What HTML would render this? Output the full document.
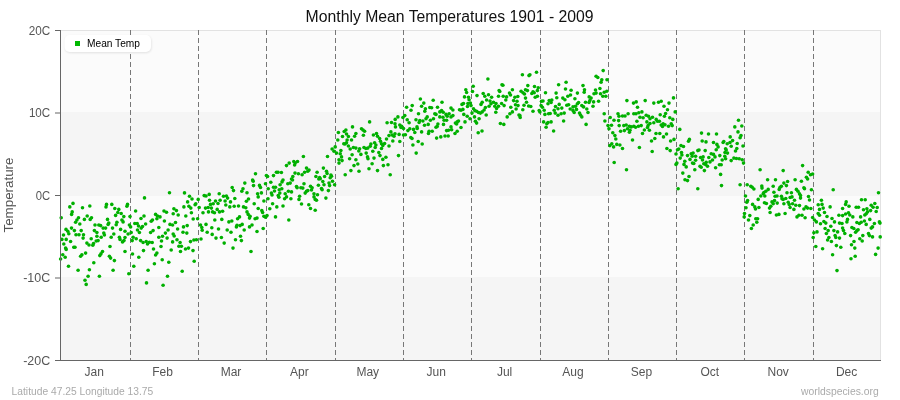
<!DOCTYPE html><html><head><meta charset="utf-8"><style>html,body{margin:0;padding:0;background:#fff;width:900px;height:400px;overflow:hidden}svg{display:block}text{will-change:transform}text{font-family:"Liberation Sans",sans-serif}</style></head><body><svg width="900" height="400" viewBox="0 0 900 400"><rect x="60" y="30" width="821" height="330" fill="#fbfbfb"/><rect x="60" y="112" width="821" height="84" fill="#f5f5f5"/><rect x="60" y="277" width="821" height="83" fill="#f5f5f5"/><rect x="60" y="30" width="821" height="1" fill="#e2e2e2"/><rect x="880" y="30" width="1" height="330" fill="#e2e2e2"/><line x1="130.5" y1="30" x2="130.5" y2="360" stroke="#777" stroke-width="1" stroke-dasharray="5,3" stroke-dashoffset="0"/><line x1="198.5" y1="30" x2="198.5" y2="360" stroke="#777" stroke-width="1" stroke-dasharray="5,3" stroke-dashoffset="0"/><line x1="266.5" y1="30" x2="266.5" y2="360" stroke="#777" stroke-width="1" stroke-dasharray="5,3" stroke-dashoffset="0"/><line x1="335.5" y1="30" x2="335.5" y2="360" stroke="#777" stroke-width="1" stroke-dasharray="5,3" stroke-dashoffset="0"/><line x1="403.5" y1="30" x2="403.5" y2="360" stroke="#777" stroke-width="1" stroke-dasharray="5,3" stroke-dashoffset="0"/><line x1="471.5" y1="30" x2="471.5" y2="360" stroke="#777" stroke-width="1" stroke-dasharray="5,3" stroke-dashoffset="0"/><line x1="540.5" y1="30" x2="540.5" y2="360" stroke="#777" stroke-width="1" stroke-dasharray="5,3" stroke-dashoffset="0"/><line x1="608.5" y1="30" x2="608.5" y2="360" stroke="#777" stroke-width="1" stroke-dasharray="5,3" stroke-dashoffset="0"/><line x1="676.5" y1="30" x2="676.5" y2="360" stroke="#777" stroke-width="1" stroke-dasharray="5,3" stroke-dashoffset="0"/><line x1="744.5" y1="30" x2="744.5" y2="360" stroke="#777" stroke-width="1" stroke-dasharray="5,3" stroke-dashoffset="0"/><line x1="813.5" y1="30" x2="813.5" y2="360" stroke="#777" stroke-width="1" stroke-dasharray="5,3" stroke-dashoffset="0"/><g fill="#00b000"><circle cx="169.5" cy="192.8" r="1.8"/><circle cx="144.5" cy="197.9" r="1.8"/><circle cx="73.0" cy="203.4" r="1.8"/><circle cx="69.8" cy="206.9" r="1.8"/><circle cx="82.5" cy="207.8" r="1.8"/><circle cx="89.8" cy="206.0" r="1.8"/><circle cx="106.5" cy="204.4" r="1.8"/><circle cx="106.0" cy="206.9" r="1.8"/><circle cx="111.8" cy="204.4" r="1.8"/><circle cx="127.5" cy="204.4" r="1.8"/><circle cx="126.9" cy="206.2" r="1.8"/><circle cx="114.8" cy="208.5" r="1.8"/><circle cx="118.8" cy="209.4" r="1.8"/><circle cx="72.2" cy="211.9" r="1.8"/><circle cx="71.6" cy="214.4" r="1.8"/><circle cx="135.6" cy="211.0" r="1.8"/><circle cx="164.0" cy="211.0" r="1.8"/><circle cx="166.5" cy="212.2" r="1.8"/><circle cx="117.8" cy="212.5" r="1.8"/><circle cx="121.2" cy="213.5" r="1.8"/><circle cx="61.2" cy="217.8" r="1.8"/><circle cx="87.2" cy="216.0" r="1.8"/><circle cx="78.5" cy="217.8" r="1.8"/><circle cx="76.9" cy="220.0" r="1.8"/><circle cx="91.5" cy="217.8" r="1.8"/><circle cx="90.2" cy="219.4" r="1.8"/><circle cx="84.4" cy="219.4" r="1.8"/><circle cx="115.6" cy="215.4" r="1.8"/><circle cx="123.8" cy="216.6" r="1.8"/><circle cx="130.0" cy="216.6" r="1.8"/><circle cx="144.0" cy="216.0" r="1.8"/><circle cx="141.0" cy="218.5" r="1.8"/><circle cx="155.6" cy="214.4" r="1.8"/><circle cx="157.5" cy="216.0" r="1.8"/><circle cx="160.0" cy="216.9" r="1.8"/><circle cx="156.9" cy="218.8" r="1.8"/><circle cx="107.5" cy="219.4" r="1.8"/><circle cx="121.9" cy="220.0" r="1.8"/><circle cx="123.1" cy="221.9" r="1.8"/><circle cx="152.5" cy="220.0" r="1.8"/><circle cx="151.2" cy="221.2" r="1.8"/><circle cx="164.4" cy="221.0" r="1.8"/><circle cx="75.6" cy="222.2" r="1.8"/><circle cx="79.8" cy="224.0" r="1.8"/><circle cx="95.0" cy="225.0" r="1.8"/><circle cx="98.8" cy="225.0" r="1.8"/><circle cx="100.6" cy="225.6" r="1.8"/><circle cx="108.8" cy="223.1" r="1.8"/><circle cx="108.1" cy="224.4" r="1.8"/><circle cx="116.9" cy="222.2" r="1.8"/><circle cx="116.2" cy="224.8" r="1.8"/><circle cx="129.4" cy="225.0" r="1.8"/><circle cx="130.6" cy="226.9" r="1.8"/><circle cx="134.8" cy="223.5" r="1.8"/><circle cx="137.2" cy="223.5" r="1.8"/><circle cx="138.5" cy="226.0" r="1.8"/><circle cx="142.5" cy="226.5" r="1.8"/><circle cx="141.2" cy="228.1" r="1.8"/><circle cx="145.6" cy="224.0" r="1.8"/><circle cx="170.0" cy="224.4" r="1.8"/><circle cx="66.0" cy="229.4" r="1.8"/><circle cx="67.8" cy="231.2" r="1.8"/><circle cx="71.5" cy="228.1" r="1.8"/><circle cx="74.4" cy="230.6" r="1.8"/><circle cx="81.2" cy="230.6" r="1.8"/><circle cx="94.4" cy="230.6" r="1.8"/><circle cx="96.9" cy="232.5" r="1.8"/><circle cx="103.1" cy="228.1" r="1.8"/><circle cx="105.6" cy="228.1" r="1.8"/><circle cx="112.5" cy="228.1" r="1.8"/><circle cx="120.6" cy="229.4" r="1.8"/><circle cx="125.0" cy="231.2" r="1.8"/><circle cx="137.5" cy="230.0" r="1.8"/><circle cx="139.4" cy="232.5" r="1.8"/><circle cx="158.8" cy="227.5" r="1.8"/><circle cx="153.1" cy="230.6" r="1.8"/><circle cx="150.6" cy="232.5" r="1.8"/><circle cx="168.1" cy="230.0" r="1.8"/><circle cx="63.5" cy="235.0" r="1.8"/><circle cx="68.8" cy="233.8" r="1.8"/><circle cx="76.0" cy="234.8" r="1.8"/><circle cx="79.0" cy="234.8" r="1.8"/><circle cx="83.5" cy="234.8" r="1.8"/><circle cx="103.8" cy="233.1" r="1.8"/><circle cx="104.4" cy="235.0" r="1.8"/><circle cx="101.2" cy="237.2" r="1.8"/><circle cx="96.9" cy="236.2" r="1.8"/><circle cx="113.8" cy="234.0" r="1.8"/><circle cx="128.1" cy="234.0" r="1.8"/><circle cx="131.2" cy="232.5" r="1.8"/><circle cx="111.2" cy="237.2" r="1.8"/><circle cx="119.4" cy="237.2" r="1.8"/><circle cx="120.0" cy="239.4" r="1.8"/><circle cx="125.0" cy="237.5" r="1.8"/><circle cx="133.1" cy="237.2" r="1.8"/><circle cx="136.2" cy="238.8" r="1.8"/><circle cx="158.8" cy="237.2" r="1.8"/><circle cx="162.5" cy="236.2" r="1.8"/><circle cx="165.4" cy="233.1" r="1.8"/><circle cx="167.1" cy="238.1" r="1.8"/><circle cx="83.1" cy="238.1" r="1.8"/><circle cx="91.2" cy="238.8" r="1.8"/><circle cx="61.9" cy="239.4" r="1.8"/><circle cx="66.2" cy="239.4" r="1.8"/><circle cx="70.6" cy="241.5" r="1.8"/><circle cx="63.8" cy="244.0" r="1.8"/><circle cx="65.6" cy="248.1" r="1.8"/><circle cx="66.2" cy="249.4" r="1.8"/><circle cx="73.8" cy="247.2" r="1.8"/><circle cx="75.0" cy="247.2" r="1.8"/><circle cx="86.9" cy="243.1" r="1.8"/><circle cx="89.0" cy="245.0" r="1.8"/><circle cx="92.8" cy="245.2" r="1.8"/><circle cx="93.5" cy="243.5" r="1.8"/><circle cx="96.2" cy="241.0" r="1.8"/><circle cx="98.1" cy="240.6" r="1.8"/><circle cx="110.0" cy="246.5" r="1.8"/><circle cx="122.5" cy="241.9" r="1.8"/><circle cx="124.0" cy="240.6" r="1.8"/><circle cx="132.2" cy="240.6" r="1.8"/><circle cx="140.6" cy="240.6" r="1.8"/><circle cx="143.1" cy="242.5" r="1.8"/><circle cx="146.2" cy="241.5" r="1.8"/><circle cx="147.5" cy="244.0" r="1.8"/><circle cx="149.4" cy="242.2" r="1.8"/><circle cx="152.2" cy="242.5" r="1.8"/><circle cx="161.5" cy="241.0" r="1.8"/><circle cx="161.0" cy="246.5" r="1.8"/><circle cx="171.2" cy="250.0" r="1.8"/><circle cx="153.5" cy="249.0" r="1.8"/><circle cx="143.5" cy="250.6" r="1.8"/><circle cx="125.0" cy="251.5" r="1.8"/><circle cx="102.5" cy="251.5" r="1.8"/><circle cx="101.0" cy="253.8" r="1.8"/><circle cx="99.8" cy="255.6" r="1.8"/><circle cx="85.6" cy="253.1" r="1.8"/><circle cx="81.9" cy="254.8" r="1.8"/><circle cx="80.6" cy="256.2" r="1.8"/><circle cx="62.8" cy="254.8" r="1.8"/><circle cx="65.2" cy="257.2" r="1.8"/><circle cx="60.6" cy="259.0" r="1.8"/><circle cx="109.4" cy="256.2" r="1.8"/><circle cx="110.6" cy="258.1" r="1.8"/><circle cx="114.4" cy="260.6" r="1.8"/><circle cx="132.5" cy="254.0" r="1.8"/><circle cx="138.8" cy="257.2" r="1.8"/><circle cx="156.9" cy="253.1" r="1.8"/><circle cx="155.6" cy="255.0" r="1.8"/><circle cx="162.2" cy="259.8" r="1.8"/><circle cx="168.8" cy="262.2" r="1.8"/><circle cx="93.8" cy="262.8" r="1.8"/><circle cx="68.5" cy="266.2" r="1.8"/><circle cx="78.1" cy="270.2" r="1.8"/><circle cx="89.4" cy="269.8" r="1.8"/><circle cx="113.1" cy="270.2" r="1.8"/><circle cx="133.8" cy="266.2" r="1.8"/><circle cx="154.4" cy="263.8" r="1.8"/><circle cx="148.1" cy="270.2" r="1.8"/><circle cx="128.8" cy="273.8" r="1.8"/><circle cx="88.1" cy="276.2" r="1.8"/><circle cx="99.4" cy="276.2" r="1.8"/><circle cx="85.0" cy="280.2" r="1.8"/><circle cx="86.2" cy="284.4" r="1.8"/><circle cx="146.5" cy="282.9" r="1.8"/><circle cx="163.1" cy="285.2" r="1.8"/><circle cx="167.5" cy="276.2" r="1.8"/><circle cx="255.5" cy="173.8" r="1.8"/><circle cx="266.4" cy="175.6" r="1.8"/><circle cx="267.6" cy="176.5" r="1.8"/><circle cx="273.5" cy="175.6" r="1.8"/><circle cx="276.4" cy="172.2" r="1.8"/><circle cx="278.0" cy="172.2" r="1.8"/><circle cx="281.4" cy="172.5" r="1.8"/><circle cx="252.6" cy="180.0" r="1.8"/><circle cx="253.2" cy="181.2" r="1.8"/><circle cx="244.8" cy="183.1" r="1.8"/><circle cx="253.5" cy="185.6" r="1.8"/><circle cx="265.5" cy="183.8" r="1.8"/><circle cx="270.8" cy="182.2" r="1.8"/><circle cx="283.0" cy="180.0" r="1.8"/><circle cx="282.0" cy="181.9" r="1.8"/><circle cx="280.1" cy="184.8" r="1.8"/><circle cx="259.5" cy="185.4" r="1.8"/><circle cx="260.5" cy="187.5" r="1.8"/><circle cx="268.2" cy="188.8" r="1.8"/><circle cx="273.5" cy="187.2" r="1.8"/><circle cx="275.5" cy="187.2" r="1.8"/><circle cx="274.5" cy="191.0" r="1.8"/><circle cx="279.2" cy="189.8" r="1.8"/><circle cx="281.8" cy="188.8" r="1.8"/><circle cx="232.2" cy="187.5" r="1.8"/><circle cx="233.5" cy="190.6" r="1.8"/><circle cx="243.0" cy="188.8" r="1.8"/><circle cx="241.8" cy="191.2" r="1.8"/><circle cx="247.0" cy="192.8" r="1.8"/><circle cx="184.5" cy="192.9" r="1.8"/><circle cx="189.5" cy="196.2" r="1.8"/><circle cx="192.0" cy="199.0" r="1.8"/><circle cx="198.2" cy="199.4" r="1.8"/><circle cx="204.2" cy="195.6" r="1.8"/><circle cx="206.0" cy="196.0" r="1.8"/><circle cx="209.2" cy="194.4" r="1.8"/><circle cx="219.2" cy="193.8" r="1.8"/><circle cx="223.5" cy="196.2" r="1.8"/><circle cx="226.4" cy="196.0" r="1.8"/><circle cx="227.6" cy="198.1" r="1.8"/><circle cx="234.8" cy="198.5" r="1.8"/><circle cx="257.6" cy="193.8" r="1.8"/><circle cx="258.2" cy="196.9" r="1.8"/><circle cx="261.4" cy="192.9" r="1.8"/><circle cx="271.4" cy="193.1" r="1.8"/><circle cx="272.0" cy="195.0" r="1.8"/><circle cx="279.8" cy="193.1" r="1.8"/><circle cx="278.2" cy="195.6" r="1.8"/><circle cx="278.9" cy="197.2" r="1.8"/><circle cx="268.0" cy="198.8" r="1.8"/><circle cx="248.5" cy="199.0" r="1.8"/><circle cx="187.6" cy="201.9" r="1.8"/><circle cx="188.9" cy="206.2" r="1.8"/><circle cx="190.8" cy="208.1" r="1.8"/><circle cx="195.8" cy="203.8" r="1.8"/><circle cx="195.1" cy="204.8" r="1.8"/><circle cx="209.5" cy="200.2" r="1.8"/><circle cx="215.5" cy="201.0" r="1.8"/><circle cx="220.1" cy="200.2" r="1.8"/><circle cx="225.1" cy="201.0" r="1.8"/><circle cx="225.8" cy="205.0" r="1.8"/><circle cx="230.5" cy="201.9" r="1.8"/><circle cx="210.5" cy="204.4" r="1.8"/><circle cx="213.2" cy="203.8" r="1.8"/><circle cx="218.0" cy="203.5" r="1.8"/><circle cx="246.4" cy="201.2" r="1.8"/><circle cx="254.2" cy="203.8" r="1.8"/><circle cx="263.9" cy="201.0" r="1.8"/><circle cx="272.6" cy="203.8" r="1.8"/><circle cx="183.9" cy="206.9" r="1.8"/><circle cx="173.9" cy="208.8" r="1.8"/><circle cx="176.4" cy="210.6" r="1.8"/><circle cx="173.2" cy="213.8" r="1.8"/><circle cx="178.2" cy="215.0" r="1.8"/><circle cx="185.8" cy="216.0" r="1.8"/><circle cx="191.4" cy="212.8" r="1.8"/><circle cx="199.2" cy="207.5" r="1.8"/><circle cx="205.5" cy="208.1" r="1.8"/><circle cx="208.2" cy="207.5" r="1.8"/><circle cx="208.5" cy="211.9" r="1.8"/><circle cx="211.4" cy="208.1" r="1.8"/><circle cx="203.0" cy="212.8" r="1.8"/><circle cx="212.6" cy="211.9" r="1.8"/><circle cx="214.5" cy="212.8" r="1.8"/><circle cx="217.2" cy="209.4" r="1.8"/><circle cx="219.5" cy="211.9" r="1.8"/><circle cx="222.6" cy="211.2" r="1.8"/><circle cx="229.8" cy="206.9" r="1.8"/><circle cx="234.2" cy="206.2" r="1.8"/><circle cx="238.5" cy="206.0" r="1.8"/><circle cx="243.5" cy="206.9" r="1.8"/><circle cx="245.8" cy="207.8" r="1.8"/><circle cx="247.0" cy="211.9" r="1.8"/><circle cx="248.2" cy="214.4" r="1.8"/><circle cx="250.1" cy="216.2" r="1.8"/><circle cx="249.5" cy="218.1" r="1.8"/><circle cx="258.2" cy="208.5" r="1.8"/><circle cx="261.8" cy="210.6" r="1.8"/><circle cx="262.6" cy="212.5" r="1.8"/><circle cx="269.8" cy="208.8" r="1.8"/><circle cx="276.8" cy="206.9" r="1.8"/><circle cx="283.0" cy="206.0" r="1.8"/><circle cx="263.9" cy="216.2" r="1.8"/><circle cx="265.5" cy="217.2" r="1.8"/><circle cx="267.0" cy="215.6" r="1.8"/><circle cx="275.5" cy="216.9" r="1.8"/><circle cx="255.1" cy="218.8" r="1.8"/><circle cx="257.0" cy="218.1" r="1.8"/><circle cx="193.2" cy="219.0" r="1.8"/><circle cx="197.6" cy="218.8" r="1.8"/><circle cx="214.8" cy="220.0" r="1.8"/><circle cx="221.8" cy="219.4" r="1.8"/><circle cx="228.9" cy="221.9" r="1.8"/><circle cx="231.8" cy="221.0" r="1.8"/><circle cx="237.6" cy="218.8" r="1.8"/><circle cx="239.5" cy="216.9" r="1.8"/><circle cx="175.5" cy="222.5" r="1.8"/><circle cx="183.5" cy="226.9" r="1.8"/><circle cx="187.2" cy="225.6" r="1.8"/><circle cx="200.5" cy="225.0" r="1.8"/><circle cx="201.8" cy="227.5" r="1.8"/><circle cx="202.2" cy="230.2" r="1.8"/><circle cx="206.0" cy="224.4" r="1.8"/><circle cx="211.8" cy="227.8" r="1.8"/><circle cx="218.5" cy="229.0" r="1.8"/><circle cx="227.2" cy="230.0" r="1.8"/><circle cx="231.0" cy="232.2" r="1.8"/><circle cx="236.4" cy="226.9" r="1.8"/><circle cx="237.0" cy="225.2" r="1.8"/><circle cx="240.1" cy="225.6" r="1.8"/><circle cx="242.2" cy="224.4" r="1.8"/><circle cx="244.2" cy="230.0" r="1.8"/><circle cx="249.5" cy="226.9" r="1.8"/><circle cx="252.0" cy="225.0" r="1.8"/><circle cx="263.2" cy="228.5" r="1.8"/><circle cx="257.0" cy="231.5" r="1.8"/><circle cx="172.6" cy="225.0" r="1.8"/><circle cx="177.6" cy="229.0" r="1.8"/><circle cx="183.0" cy="232.2" r="1.8"/><circle cx="186.8" cy="233.1" r="1.8"/><circle cx="173.2" cy="234.0" r="1.8"/><circle cx="174.2" cy="236.0" r="1.8"/><circle cx="207.2" cy="232.2" r="1.8"/><circle cx="212.2" cy="234.4" r="1.8"/><circle cx="216.0" cy="238.1" r="1.8"/><circle cx="221.4" cy="237.5" r="1.8"/><circle cx="240.5" cy="236.2" r="1.8"/><circle cx="241.4" cy="240.6" r="1.8"/><circle cx="235.5" cy="239.8" r="1.8"/><circle cx="201.0" cy="239.0" r="1.8"/><circle cx="193.9" cy="240.0" r="1.8"/><circle cx="196.4" cy="239.8" r="1.8"/><circle cx="190.5" cy="241.6" r="1.8"/><circle cx="177.0" cy="239.8" r="1.8"/><circle cx="180.1" cy="242.5" r="1.8"/><circle cx="224.2" cy="243.1" r="1.8"/><circle cx="172.6" cy="241.9" r="1.8"/><circle cx="178.9" cy="246.2" r="1.8"/><circle cx="181.4" cy="246.2" r="1.8"/><circle cx="180.5" cy="251.5" r="1.8"/><circle cx="185.5" cy="249.0" r="1.8"/><circle cx="188.5" cy="248.1" r="1.8"/><circle cx="193.0" cy="250.6" r="1.8"/><circle cx="233.0" cy="248.1" r="1.8"/><circle cx="251.0" cy="251.5" r="1.8"/><circle cx="194.2" cy="261.2" r="1.8"/><circle cx="182.2" cy="271.2" r="1.8"/><circle cx="369.6" cy="121.9" r="1.8"/><circle cx="387.1" cy="122.8" r="1.8"/><circle cx="391.5" cy="122.5" r="1.8"/><circle cx="395.2" cy="119.4" r="1.8"/><circle cx="395.0" cy="123.8" r="1.8"/><circle cx="395.5" cy="126.9" r="1.8"/><circle cx="352.5" cy="126.9" r="1.8"/><circle cx="361.5" cy="128.8" r="1.8"/><circle cx="363.0" cy="130.0" r="1.8"/><circle cx="364.6" cy="131.2" r="1.8"/><circle cx="338.4" cy="132.5" r="1.8"/><circle cx="344.2" cy="131.5" r="1.8"/><circle cx="345.9" cy="130.0" r="1.8"/><circle cx="346.5" cy="134.0" r="1.8"/><circle cx="348.4" cy="136.5" r="1.8"/><circle cx="342.5" cy="136.5" r="1.8"/><circle cx="355.9" cy="133.5" r="1.8"/><circle cx="354.6" cy="136.2" r="1.8"/><circle cx="363.4" cy="135.2" r="1.8"/><circle cx="373.4" cy="135.0" r="1.8"/><circle cx="376.5" cy="133.5" r="1.8"/><circle cx="377.5" cy="136.2" r="1.8"/><circle cx="390.9" cy="131.9" r="1.8"/><circle cx="389.0" cy="135.6" r="1.8"/><circle cx="392.1" cy="135.0" r="1.8"/><circle cx="394.0" cy="136.2" r="1.8"/><circle cx="395.0" cy="133.8" r="1.8"/><circle cx="337.8" cy="140.0" r="1.8"/><circle cx="347.1" cy="140.0" r="1.8"/><circle cx="346.5" cy="142.8" r="1.8"/><circle cx="351.5" cy="140.0" r="1.8"/><circle cx="343.8" cy="143.8" r="1.8"/><circle cx="345.0" cy="144.0" r="1.8"/><circle cx="379.6" cy="138.5" r="1.8"/><circle cx="380.5" cy="141.2" r="1.8"/><circle cx="386.5" cy="139.0" r="1.8"/><circle cx="392.8" cy="141.0" r="1.8"/><circle cx="348.4" cy="146.0" r="1.8"/><circle cx="350.2" cy="149.0" r="1.8"/><circle cx="353.4" cy="147.5" r="1.8"/><circle cx="355.9" cy="148.1" r="1.8"/><circle cx="359.6" cy="148.8" r="1.8"/><circle cx="358.8" cy="151.0" r="1.8"/><circle cx="364.0" cy="147.5" r="1.8"/><circle cx="365.9" cy="148.5" r="1.8"/><circle cx="367.8" cy="148.1" r="1.8"/><circle cx="370.2" cy="146.2" r="1.8"/><circle cx="370.9" cy="144.0" r="1.8"/><circle cx="374.6" cy="142.8" r="1.8"/><circle cx="375.9" cy="145.0" r="1.8"/><circle cx="375.2" cy="147.5" r="1.8"/><circle cx="381.5" cy="143.8" r="1.8"/><circle cx="382.8" cy="145.6" r="1.8"/><circle cx="384.6" cy="143.5" r="1.8"/><circle cx="381.5" cy="148.5" r="1.8"/><circle cx="389.0" cy="146.0" r="1.8"/><circle cx="335.2" cy="146.9" r="1.8"/><circle cx="332.1" cy="149.0" r="1.8"/><circle cx="334.0" cy="151.2" r="1.8"/><circle cx="336.5" cy="153.1" r="1.8"/><circle cx="340.9" cy="150.6" r="1.8"/><circle cx="340.2" cy="153.8" r="1.8"/><circle cx="352.1" cy="154.8" r="1.8"/><circle cx="360.9" cy="154.4" r="1.8"/><circle cx="366.2" cy="153.1" r="1.8"/><circle cx="372.8" cy="151.2" r="1.8"/><circle cx="378.8" cy="152.5" r="1.8"/><circle cx="380.0" cy="155.6" r="1.8"/><circle cx="367.5" cy="156.9" r="1.8"/><circle cx="368.0" cy="158.8" r="1.8"/><circle cx="374.0" cy="158.1" r="1.8"/><circle cx="385.9" cy="157.2" r="1.8"/><circle cx="382.8" cy="159.4" r="1.8"/><circle cx="341.5" cy="156.9" r="1.8"/><circle cx="339.0" cy="159.8" r="1.8"/><circle cx="349.6" cy="158.8" r="1.8"/><circle cx="355.9" cy="159.8" r="1.8"/><circle cx="303.4" cy="156.5" r="1.8"/><circle cx="327.5" cy="156.5" r="1.8"/><circle cx="342.1" cy="160.6" r="1.8"/><circle cx="339.0" cy="163.1" r="1.8"/><circle cx="357.8" cy="164.0" r="1.8"/><circle cx="354.0" cy="165.6" r="1.8"/><circle cx="372.1" cy="163.8" r="1.8"/><circle cx="383.4" cy="165.6" r="1.8"/><circle cx="388.0" cy="164.8" r="1.8"/><circle cx="350.9" cy="170.6" r="1.8"/><circle cx="359.0" cy="171.2" r="1.8"/><circle cx="369.0" cy="168.8" r="1.8"/><circle cx="377.5" cy="170.6" r="1.8"/><circle cx="390.2" cy="174.8" r="1.8"/><circle cx="345.2" cy="174.8" r="1.8"/><circle cx="286.5" cy="165.6" r="1.8"/><circle cx="289.2" cy="163.1" r="1.8"/><circle cx="293.8" cy="161.5" r="1.8"/><circle cx="295.2" cy="163.1" r="1.8"/><circle cx="297.5" cy="161.5" r="1.8"/><circle cx="294.6" cy="165.0" r="1.8"/><circle cx="306.5" cy="168.1" r="1.8"/><circle cx="309.0" cy="170.0" r="1.8"/><circle cx="307.8" cy="171.2" r="1.8"/><circle cx="304.6" cy="172.2" r="1.8"/><circle cx="295.0" cy="173.1" r="1.8"/><circle cx="298.4" cy="173.8" r="1.8"/><circle cx="302.1" cy="174.8" r="1.8"/><circle cx="292.8" cy="176.5" r="1.8"/><circle cx="291.5" cy="179.0" r="1.8"/><circle cx="292.5" cy="180.0" r="1.8"/><circle cx="317.1" cy="172.2" r="1.8"/><circle cx="323.4" cy="168.1" r="1.8"/><circle cx="326.5" cy="171.2" r="1.8"/><circle cx="327.1" cy="173.5" r="1.8"/><circle cx="315.9" cy="176.5" r="1.8"/><circle cx="319.6" cy="177.5" r="1.8"/><circle cx="320.2" cy="178.8" r="1.8"/><circle cx="318.8" cy="179.0" r="1.8"/><circle cx="324.6" cy="176.5" r="1.8"/><circle cx="330.9" cy="175.0" r="1.8"/><circle cx="331.5" cy="176.2" r="1.8"/><circle cx="330.2" cy="177.8" r="1.8"/><circle cx="322.8" cy="181.5" r="1.8"/><circle cx="324.0" cy="184.8" r="1.8"/><circle cx="329.0" cy="183.1" r="1.8"/><circle cx="329.6" cy="185.6" r="1.8"/><circle cx="332.5" cy="181.2" r="1.8"/><circle cx="334.6" cy="184.8" r="1.8"/><circle cx="287.8" cy="183.8" r="1.8"/><circle cx="290.2" cy="183.1" r="1.8"/><circle cx="304.0" cy="183.8" r="1.8"/><circle cx="296.5" cy="186.5" r="1.8"/><circle cx="297.1" cy="187.8" r="1.8"/><circle cx="300.9" cy="187.8" r="1.8"/><circle cx="302.8" cy="188.1" r="1.8"/><circle cx="310.5" cy="186.2" r="1.8"/><circle cx="312.1" cy="187.8" r="1.8"/><circle cx="311.5" cy="190.0" r="1.8"/><circle cx="318.4" cy="185.2" r="1.8"/><circle cx="321.5" cy="188.5" r="1.8"/><circle cx="322.1" cy="189.8" r="1.8"/><circle cx="328.4" cy="190.6" r="1.8"/><circle cx="306.5" cy="191.2" r="1.8"/><circle cx="305.2" cy="193.1" r="1.8"/><circle cx="307.8" cy="190.6" r="1.8"/><circle cx="288.4" cy="191.2" r="1.8"/><circle cx="291.5" cy="191.9" r="1.8"/><circle cx="285.2" cy="193.8" r="1.8"/><circle cx="286.5" cy="196.9" r="1.8"/><circle cx="284.6" cy="198.8" r="1.8"/><circle cx="290.9" cy="198.8" r="1.8"/><circle cx="299.6" cy="196.2" r="1.8"/><circle cx="299.0" cy="199.4" r="1.8"/><circle cx="314.0" cy="193.8" r="1.8"/><circle cx="314.0" cy="196.9" r="1.8"/><circle cx="315.2" cy="199.4" r="1.8"/><circle cx="316.5" cy="200.2" r="1.8"/><circle cx="317.5" cy="194.8" r="1.8"/><circle cx="325.9" cy="198.1" r="1.8"/><circle cx="301.5" cy="204.0" r="1.8"/><circle cx="308.8" cy="204.8" r="1.8"/><circle cx="310.5" cy="208.5" r="1.8"/><circle cx="315.2" cy="210.2" r="1.8"/><circle cx="288.8" cy="220.0" r="1.8"/><circle cx="487.9" cy="79.0" r="1.8"/><circle cx="502.0" cy="84.8" r="1.8"/><circle cx="502.9" cy="85.2" r="1.8"/><circle cx="473.2" cy="86.2" r="1.8"/><circle cx="465.8" cy="89.8" r="1.8"/><circle cx="466.6" cy="92.5" r="1.8"/><circle cx="472.5" cy="91.5" r="1.8"/><circle cx="477.0" cy="95.6" r="1.8"/><circle cx="483.2" cy="93.5" r="1.8"/><circle cx="484.8" cy="96.2" r="1.8"/><circle cx="488.5" cy="94.8" r="1.8"/><circle cx="491.6" cy="97.2" r="1.8"/><circle cx="499.1" cy="90.6" r="1.8"/><circle cx="499.8" cy="91.5" r="1.8"/><circle cx="498.5" cy="96.2" r="1.8"/><circle cx="503.2" cy="96.2" r="1.8"/><circle cx="506.6" cy="96.9" r="1.8"/><circle cx="505.8" cy="100.0" r="1.8"/><circle cx="420.4" cy="99.0" r="1.8"/><circle cx="433.2" cy="100.2" r="1.8"/><circle cx="442.0" cy="102.2" r="1.8"/><circle cx="423.8" cy="103.1" r="1.8"/><circle cx="406.6" cy="107.2" r="1.8"/><circle cx="412.2" cy="105.6" r="1.8"/><circle cx="411.0" cy="110.2" r="1.8"/><circle cx="421.6" cy="106.2" r="1.8"/><circle cx="425.4" cy="108.8" r="1.8"/><circle cx="424.8" cy="111.2" r="1.8"/><circle cx="429.8" cy="107.5" r="1.8"/><circle cx="431.6" cy="107.8" r="1.8"/><circle cx="437.5" cy="107.2" r="1.8"/><circle cx="464.5" cy="96.9" r="1.8"/><circle cx="468.5" cy="97.2" r="1.8"/><circle cx="469.1" cy="99.8" r="1.8"/><circle cx="462.0" cy="104.4" r="1.8"/><circle cx="463.5" cy="103.5" r="1.8"/><circle cx="467.9" cy="103.5" r="1.8"/><circle cx="470.4" cy="103.1" r="1.8"/><circle cx="467.5" cy="106.5" r="1.8"/><circle cx="471.0" cy="105.6" r="1.8"/><circle cx="481.0" cy="104.4" r="1.8"/><circle cx="482.2" cy="102.2" r="1.8"/><circle cx="486.6" cy="100.0" r="1.8"/><circle cx="490.0" cy="101.0" r="1.8"/><circle cx="491.0" cy="103.8" r="1.8"/><circle cx="489.1" cy="106.2" r="1.8"/><circle cx="493.5" cy="102.2" r="1.8"/><circle cx="494.8" cy="106.2" r="1.8"/><circle cx="496.0" cy="103.5" r="1.8"/><circle cx="498.5" cy="106.2" r="1.8"/><circle cx="501.6" cy="103.5" r="1.8"/><circle cx="504.1" cy="105.6" r="1.8"/><circle cx="451.0" cy="108.1" r="1.8"/><circle cx="452.9" cy="110.0" r="1.8"/><circle cx="459.5" cy="109.8" r="1.8"/><circle cx="461.0" cy="110.2" r="1.8"/><circle cx="462.9" cy="109.4" r="1.8"/><circle cx="473.5" cy="108.8" r="1.8"/><circle cx="474.8" cy="110.6" r="1.8"/><circle cx="476.6" cy="111.2" r="1.8"/><circle cx="478.5" cy="112.5" r="1.8"/><circle cx="480.4" cy="113.1" r="1.8"/><circle cx="482.2" cy="111.9" r="1.8"/><circle cx="484.1" cy="110.0" r="1.8"/><circle cx="485.4" cy="107.5" r="1.8"/><circle cx="496.6" cy="108.5" r="1.8"/><circle cx="495.8" cy="112.2" r="1.8"/><circle cx="486.2" cy="115.0" r="1.8"/><circle cx="472.0" cy="113.1" r="1.8"/><circle cx="397.9" cy="116.9" r="1.8"/><circle cx="402.9" cy="117.5" r="1.8"/><circle cx="404.8" cy="115.6" r="1.8"/><circle cx="418.5" cy="113.8" r="1.8"/><circle cx="434.8" cy="113.8" r="1.8"/><circle cx="436.0" cy="114.4" r="1.8"/><circle cx="439.8" cy="111.9" r="1.8"/><circle cx="441.6" cy="110.6" r="1.8"/><circle cx="443.2" cy="112.2" r="1.8"/><circle cx="446.0" cy="114.4" r="1.8"/><circle cx="447.2" cy="116.2" r="1.8"/><circle cx="449.1" cy="113.8" r="1.8"/><circle cx="451.0" cy="116.9" r="1.8"/><circle cx="439.8" cy="116.9" r="1.8"/><circle cx="442.9" cy="117.2" r="1.8"/><circle cx="452.9" cy="115.6" r="1.8"/><circle cx="427.2" cy="116.9" r="1.8"/><circle cx="426.0" cy="118.8" r="1.8"/><circle cx="433.5" cy="118.8" r="1.8"/><circle cx="463.8" cy="114.4" r="1.8"/><circle cx="467.2" cy="116.2" r="1.8"/><circle cx="474.5" cy="116.9" r="1.8"/><circle cx="479.1" cy="118.8" r="1.8"/><circle cx="470.0" cy="118.8" r="1.8"/><circle cx="507.2" cy="116.9" r="1.8"/><circle cx="407.2" cy="119.8" r="1.8"/><circle cx="416.0" cy="119.8" r="1.8"/><circle cx="409.1" cy="122.8" r="1.8"/><circle cx="419.8" cy="120.6" r="1.8"/><circle cx="419.1" cy="122.5" r="1.8"/><circle cx="422.9" cy="121.0" r="1.8"/><circle cx="430.4" cy="120.2" r="1.8"/><circle cx="444.1" cy="120.2" r="1.8"/><circle cx="446.6" cy="120.2" r="1.8"/><circle cx="455.4" cy="123.1" r="1.8"/><circle cx="457.2" cy="121.9" r="1.8"/><circle cx="458.5" cy="121.0" r="1.8"/><circle cx="456.6" cy="124.0" r="1.8"/><circle cx="465.0" cy="121.9" r="1.8"/><circle cx="475.4" cy="121.2" r="1.8"/><circle cx="476.6" cy="123.1" r="1.8"/><circle cx="500.4" cy="123.5" r="1.8"/><circle cx="503.8" cy="124.4" r="1.8"/><circle cx="399.8" cy="125.0" r="1.8"/><circle cx="401.6" cy="126.2" r="1.8"/><circle cx="401.0" cy="127.5" r="1.8"/><circle cx="403.5" cy="128.5" r="1.8"/><circle cx="424.5" cy="125.2" r="1.8"/><circle cx="428.2" cy="124.4" r="1.8"/><circle cx="437.9" cy="124.0" r="1.8"/><circle cx="437.2" cy="126.5" r="1.8"/><circle cx="436.0" cy="127.2" r="1.8"/><circle cx="443.5" cy="124.4" r="1.8"/><circle cx="461.0" cy="127.5" r="1.8"/><circle cx="417.0" cy="126.9" r="1.8"/><circle cx="417.2" cy="128.5" r="1.8"/><circle cx="407.9" cy="130.6" r="1.8"/><circle cx="409.8" cy="128.8" r="1.8"/><circle cx="413.5" cy="129.4" r="1.8"/><circle cx="414.8" cy="132.5" r="1.8"/><circle cx="421.6" cy="131.9" r="1.8"/><circle cx="429.1" cy="131.2" r="1.8"/><circle cx="428.5" cy="133.5" r="1.8"/><circle cx="432.2" cy="131.2" r="1.8"/><circle cx="451.0" cy="126.9" r="1.8"/><circle cx="451.6" cy="129.8" r="1.8"/><circle cx="446.6" cy="130.6" r="1.8"/><circle cx="448.5" cy="130.2" r="1.8"/><circle cx="457.2" cy="131.2" r="1.8"/><circle cx="455.0" cy="133.5" r="1.8"/><circle cx="478.2" cy="132.8" r="1.8"/><circle cx="482.0" cy="131.0" r="1.8"/><circle cx="399.1" cy="134.4" r="1.8"/><circle cx="403.5" cy="135.0" r="1.8"/><circle cx="405.4" cy="134.8" r="1.8"/><circle cx="410.8" cy="137.5" r="1.8"/><circle cx="412.0" cy="138.5" r="1.8"/><circle cx="436.6" cy="138.1" r="1.8"/><circle cx="440.8" cy="136.9" r="1.8"/><circle cx="445.0" cy="136.0" r="1.8"/><circle cx="448.2" cy="136.0" r="1.8"/><circle cx="399.8" cy="141.5" r="1.8"/><circle cx="418.2" cy="141.5" r="1.8"/><circle cx="412.9" cy="145.0" r="1.8"/><circle cx="422.2" cy="144.0" r="1.8"/><circle cx="416.2" cy="153.1" r="1.8"/><circle cx="398.5" cy="155.6" r="1.8"/><circle cx="522.4" cy="74.8" r="1.8"/><circle cx="529.0" cy="75.6" r="1.8"/><circle cx="529.9" cy="74.8" r="1.8"/><circle cx="536.5" cy="72.2" r="1.8"/><circle cx="603.2" cy="70.6" r="1.8"/><circle cx="596.1" cy="76.2" r="1.8"/><circle cx="597.8" cy="77.5" r="1.8"/><circle cx="601.8" cy="79.8" r="1.8"/><circle cx="601.1" cy="82.2" r="1.8"/><circle cx="607.0" cy="79.8" r="1.8"/><circle cx="566.1" cy="82.2" r="1.8"/><circle cx="558.6" cy="84.8" r="1.8"/><circle cx="583.0" cy="85.6" r="1.8"/><circle cx="584.5" cy="89.8" r="1.8"/><circle cx="584.2" cy="92.2" r="1.8"/><circle cx="565.5" cy="89.0" r="1.8"/><circle cx="571.1" cy="90.2" r="1.8"/><circle cx="577.4" cy="93.1" r="1.8"/><circle cx="556.1" cy="93.1" r="1.8"/><circle cx="545.5" cy="92.8" r="1.8"/><circle cx="512.4" cy="89.8" r="1.8"/><circle cx="527.8" cy="85.6" r="1.8"/><circle cx="534.5" cy="86.5" r="1.8"/><circle cx="538.2" cy="87.8" r="1.8"/><circle cx="537.4" cy="90.6" r="1.8"/><circle cx="521.1" cy="91.2" r="1.8"/><circle cx="523.0" cy="92.8" r="1.8"/><circle cx="524.5" cy="94.0" r="1.8"/><circle cx="525.5" cy="89.8" r="1.8"/><circle cx="527.4" cy="90.6" r="1.8"/><circle cx="531.8" cy="93.5" r="1.8"/><circle cx="533.0" cy="91.9" r="1.8"/><circle cx="534.2" cy="92.8" r="1.8"/><circle cx="509.5" cy="93.1" r="1.8"/><circle cx="510.5" cy="95.0" r="1.8"/><circle cx="514.9" cy="97.2" r="1.8"/><circle cx="517.8" cy="96.5" r="1.8"/><circle cx="525.5" cy="98.1" r="1.8"/><circle cx="535.2" cy="97.2" r="1.8"/><circle cx="537.4" cy="96.2" r="1.8"/><circle cx="513.6" cy="100.6" r="1.8"/><circle cx="517.0" cy="101.2" r="1.8"/><circle cx="526.5" cy="102.2" r="1.8"/><circle cx="515.5" cy="104.8" r="1.8"/><circle cx="518.0" cy="105.6" r="1.8"/><circle cx="524.0" cy="105.2" r="1.8"/><circle cx="528.6" cy="106.0" r="1.8"/><circle cx="530.8" cy="106.5" r="1.8"/><circle cx="510.8" cy="107.2" r="1.8"/><circle cx="516.1" cy="109.0" r="1.8"/><circle cx="522.8" cy="109.8" r="1.8"/><circle cx="541.5" cy="101.2" r="1.8"/><circle cx="543.0" cy="101.0" r="1.8"/><circle cx="541.1" cy="105.6" r="1.8"/><circle cx="542.4" cy="107.2" r="1.8"/><circle cx="549.2" cy="100.6" r="1.8"/><circle cx="551.8" cy="100.0" r="1.8"/><circle cx="551.1" cy="102.5" r="1.8"/><circle cx="548.0" cy="103.8" r="1.8"/><circle cx="556.8" cy="97.8" r="1.8"/><circle cx="562.8" cy="98.1" r="1.8"/><circle cx="564.9" cy="99.8" r="1.8"/><circle cx="567.8" cy="96.2" r="1.8"/><circle cx="570.5" cy="95.0" r="1.8"/><circle cx="574.9" cy="98.8" r="1.8"/><circle cx="559.2" cy="104.4" r="1.8"/><circle cx="555.5" cy="106.5" r="1.8"/><circle cx="558.0" cy="108.8" r="1.8"/><circle cx="561.8" cy="108.1" r="1.8"/><circle cx="566.8" cy="105.2" r="1.8"/><circle cx="568.6" cy="104.8" r="1.8"/><circle cx="573.0" cy="106.9" r="1.8"/><circle cx="575.5" cy="106.2" r="1.8"/><circle cx="577.4" cy="103.8" r="1.8"/><circle cx="578.6" cy="102.5" r="1.8"/><circle cx="581.8" cy="105.6" r="1.8"/><circle cx="583.6" cy="106.9" r="1.8"/><circle cx="585.5" cy="102.2" r="1.8"/><circle cx="589.2" cy="96.9" r="1.8"/><circle cx="591.1" cy="98.1" r="1.8"/><circle cx="589.9" cy="100.6" r="1.8"/><circle cx="589.0" cy="102.5" r="1.8"/><circle cx="594.0" cy="93.8" r="1.8"/><circle cx="596.1" cy="93.1" r="1.8"/><circle cx="595.5" cy="90.0" r="1.8"/><circle cx="599.9" cy="88.5" r="1.8"/><circle cx="600.5" cy="93.8" r="1.8"/><circle cx="602.8" cy="96.2" r="1.8"/><circle cx="605.8" cy="96.2" r="1.8"/><circle cx="604.2" cy="92.2" r="1.8"/><circle cx="606.8" cy="91.2" r="1.8"/><circle cx="593.6" cy="101.9" r="1.8"/><circle cx="598.6" cy="101.2" r="1.8"/><circle cx="593.0" cy="106.2" r="1.8"/><circle cx="586.8" cy="109.0" r="1.8"/><circle cx="570.2" cy="109.0" r="1.8"/><circle cx="576.5" cy="109.4" r="1.8"/><circle cx="509.9" cy="113.8" r="1.8"/><circle cx="512.4" cy="111.9" r="1.8"/><circle cx="519.9" cy="115.6" r="1.8"/><circle cx="520.2" cy="117.5" r="1.8"/><circle cx="519.0" cy="115.0" r="1.8"/><circle cx="533.0" cy="111.2" r="1.8"/><circle cx="539.2" cy="110.6" r="1.8"/><circle cx="539.9" cy="111.9" r="1.8"/><circle cx="544.2" cy="110.2" r="1.8"/><circle cx="544.9" cy="114.4" r="1.8"/><circle cx="548.6" cy="113.8" r="1.8"/><circle cx="550.2" cy="113.5" r="1.8"/><circle cx="554.2" cy="110.2" r="1.8"/><circle cx="555.2" cy="113.1" r="1.8"/><circle cx="558.0" cy="115.2" r="1.8"/><circle cx="561.1" cy="113.8" r="1.8"/><circle cx="564.2" cy="113.1" r="1.8"/><circle cx="573.0" cy="110.6" r="1.8"/><circle cx="574.2" cy="112.5" r="1.8"/><circle cx="579.5" cy="113.1" r="1.8"/><circle cx="580.5" cy="115.0" r="1.8"/><circle cx="581.8" cy="116.9" r="1.8"/><circle cx="588.0" cy="112.5" r="1.8"/><circle cx="543.6" cy="121.9" r="1.8"/><circle cx="546.8" cy="123.8" r="1.8"/><circle cx="548.0" cy="122.5" r="1.8"/><circle cx="551.1" cy="121.9" r="1.8"/><circle cx="546.1" cy="127.2" r="1.8"/><circle cx="563.6" cy="121.0" r="1.8"/><circle cx="553.6" cy="131.0" r="1.8"/><circle cx="586.1" cy="124.4" r="1.8"/><circle cx="604.2" cy="113.8" r="1.8"/><circle cx="610.2" cy="117.5" r="1.8"/><circle cx="604.9" cy="121.0" r="1.8"/><circle cx="614.0" cy="120.2" r="1.8"/><circle cx="618.0" cy="113.8" r="1.8"/><circle cx="619.0" cy="116.2" r="1.8"/><circle cx="618.6" cy="120.6" r="1.8"/><circle cx="619.2" cy="125.6" r="1.8"/><circle cx="608.0" cy="125.6" r="1.8"/><circle cx="609.0" cy="128.8" r="1.8"/><circle cx="611.5" cy="125.2" r="1.8"/><circle cx="612.8" cy="132.8" r="1.8"/><circle cx="614.9" cy="135.6" r="1.8"/><circle cx="615.8" cy="139.0" r="1.8"/><circle cx="609.9" cy="145.6" r="1.8"/><circle cx="611.8" cy="143.8" r="1.8"/><circle cx="613.6" cy="146.9" r="1.8"/><circle cx="616.8" cy="144.4" r="1.8"/><circle cx="619.9" cy="145.0" r="1.8"/><circle cx="614.2" cy="162.5" r="1.8"/><circle cx="626.9" cy="100.6" r="1.8"/><circle cx="633.5" cy="103.1" r="1.8"/><circle cx="636.2" cy="101.9" r="1.8"/><circle cx="637.5" cy="107.2" r="1.8"/><circle cx="645.2" cy="100.6" r="1.8"/><circle cx="653.8" cy="103.1" r="1.8"/><circle cx="658.5" cy="102.2" r="1.8"/><circle cx="661.2" cy="101.2" r="1.8"/><circle cx="669.0" cy="103.1" r="1.8"/><circle cx="664.0" cy="106.2" r="1.8"/><circle cx="667.5" cy="109.8" r="1.8"/><circle cx="673.5" cy="97.9" r="1.8"/><circle cx="675.2" cy="111.9" r="1.8"/><circle cx="660.2" cy="114.8" r="1.8"/><circle cx="665.6" cy="113.5" r="1.8"/><circle cx="664.4" cy="116.2" r="1.8"/><circle cx="669.8" cy="117.8" r="1.8"/><circle cx="672.8" cy="119.4" r="1.8"/><circle cx="628.1" cy="113.8" r="1.8"/><circle cx="622.5" cy="116.0" r="1.8"/><circle cx="625.0" cy="116.0" r="1.8"/><circle cx="633.8" cy="113.8" r="1.8"/><circle cx="636.0" cy="113.8" r="1.8"/><circle cx="638.8" cy="112.8" r="1.8"/><circle cx="641.9" cy="111.9" r="1.8"/><circle cx="640.0" cy="117.2" r="1.8"/><circle cx="643.1" cy="117.8" r="1.8"/><circle cx="646.2" cy="115.2" r="1.8"/><circle cx="648.5" cy="116.2" r="1.8"/><circle cx="650.0" cy="118.8" r="1.8"/><circle cx="652.5" cy="117.2" r="1.8"/><circle cx="636.9" cy="121.2" r="1.8"/><circle cx="646.9" cy="121.9" r="1.8"/><circle cx="656.2" cy="119.4" r="1.8"/><circle cx="657.5" cy="121.2" r="1.8"/><circle cx="659.4" cy="121.2" r="1.8"/><circle cx="650.0" cy="123.5" r="1.8"/><circle cx="653.8" cy="122.8" r="1.8"/><circle cx="648.1" cy="125.6" r="1.8"/><circle cx="647.5" cy="127.5" r="1.8"/><circle cx="661.2" cy="125.0" r="1.8"/><circle cx="663.1" cy="123.8" r="1.8"/><circle cx="665.0" cy="124.8" r="1.8"/><circle cx="662.5" cy="126.5" r="1.8"/><circle cx="671.2" cy="123.8" r="1.8"/><circle cx="672.2" cy="125.6" r="1.8"/><circle cx="668.5" cy="126.2" r="1.8"/><circle cx="623.8" cy="125.6" r="1.8"/><circle cx="626.2" cy="125.0" r="1.8"/><circle cx="629.4" cy="126.2" r="1.8"/><circle cx="631.2" cy="126.9" r="1.8"/><circle cx="633.8" cy="126.2" r="1.8"/><circle cx="635.6" cy="127.2" r="1.8"/><circle cx="638.5" cy="126.2" r="1.8"/><circle cx="641.2" cy="125.6" r="1.8"/><circle cx="627.5" cy="128.8" r="1.8"/><circle cx="630.0" cy="130.2" r="1.8"/><circle cx="629.4" cy="132.2" r="1.8"/><circle cx="620.6" cy="131.2" r="1.8"/><circle cx="624.4" cy="130.6" r="1.8"/><circle cx="644.4" cy="130.0" r="1.8"/><circle cx="649.4" cy="130.2" r="1.8"/><circle cx="642.5" cy="133.5" r="1.8"/><circle cx="656.0" cy="133.5" r="1.8"/><circle cx="659.8" cy="133.5" r="1.8"/><circle cx="666.5" cy="134.0" r="1.8"/><circle cx="679.8" cy="129.4" r="1.8"/><circle cx="701.5" cy="133.1" r="1.8"/><circle cx="708.5" cy="134.0" r="1.8"/><circle cx="716.5" cy="134.0" r="1.8"/><circle cx="663.5" cy="136.9" r="1.8"/><circle cx="654.8" cy="138.5" r="1.8"/><circle cx="651.5" cy="141.0" r="1.8"/><circle cx="632.5" cy="140.0" r="1.8"/><circle cx="670.6" cy="141.0" r="1.8"/><circle cx="674.0" cy="139.4" r="1.8"/><circle cx="730.2" cy="136.9" r="1.8"/><circle cx="689.4" cy="139.4" r="1.8"/><circle cx="688.5" cy="141.2" r="1.8"/><circle cx="702.2" cy="141.0" r="1.8"/><circle cx="706.0" cy="141.9" r="1.8"/><circle cx="713.5" cy="142.5" r="1.8"/><circle cx="716.9" cy="144.4" r="1.8"/><circle cx="718.1" cy="146.9" r="1.8"/><circle cx="716.2" cy="149.8" r="1.8"/><circle cx="723.1" cy="142.5" r="1.8"/><circle cx="723.8" cy="141.5" r="1.8"/><circle cx="727.2" cy="143.8" r="1.8"/><circle cx="730.0" cy="142.5" r="1.8"/><circle cx="731.2" cy="146.2" r="1.8"/><circle cx="622.5" cy="148.5" r="1.8"/><circle cx="639.4" cy="147.5" r="1.8"/><circle cx="652.2" cy="151.5" r="1.8"/><circle cx="666.9" cy="148.5" r="1.8"/><circle cx="670.2" cy="150.6" r="1.8"/><circle cx="681.0" cy="145.6" r="1.8"/><circle cx="683.5" cy="146.5" r="1.8"/><circle cx="677.5" cy="149.8" r="1.8"/><circle cx="678.8" cy="149.0" r="1.8"/><circle cx="676.0" cy="154.0" r="1.8"/><circle cx="681.5" cy="152.5" r="1.8"/><circle cx="681.9" cy="155.0" r="1.8"/><circle cx="687.5" cy="155.6" r="1.8"/><circle cx="691.2" cy="153.8" r="1.8"/><circle cx="693.1" cy="153.1" r="1.8"/><circle cx="692.2" cy="156.2" r="1.8"/><circle cx="695.6" cy="156.2" r="1.8"/><circle cx="697.8" cy="150.6" r="1.8"/><circle cx="699.0" cy="150.0" r="1.8"/><circle cx="705.2" cy="150.6" r="1.8"/><circle cx="725.6" cy="148.8" r="1.8"/><circle cx="726.2" cy="150.0" r="1.8"/><circle cx="725.0" cy="152.5" r="1.8"/><circle cx="727.5" cy="153.1" r="1.8"/><circle cx="700.6" cy="157.5" r="1.8"/><circle cx="703.1" cy="156.9" r="1.8"/><circle cx="708.8" cy="157.5" r="1.8"/><circle cx="711.2" cy="153.8" r="1.8"/><circle cx="713.5" cy="154.4" r="1.8"/><circle cx="715.0" cy="156.9" r="1.8"/><circle cx="719.8" cy="155.6" r="1.8"/><circle cx="724.8" cy="156.2" r="1.8"/><circle cx="725.6" cy="158.8" r="1.8"/><circle cx="680.2" cy="158.1" r="1.8"/><circle cx="690.0" cy="159.4" r="1.8"/><circle cx="695.6" cy="160.2" r="1.8"/><circle cx="702.5" cy="160.0" r="1.8"/><circle cx="706.2" cy="162.2" r="1.8"/><circle cx="710.0" cy="161.9" r="1.8"/><circle cx="712.5" cy="160.0" r="1.8"/><circle cx="722.2" cy="160.0" r="1.8"/><circle cx="731.2" cy="160.6" r="1.8"/><circle cx="676.9" cy="163.1" r="1.8"/><circle cx="676.0" cy="164.4" r="1.8"/><circle cx="684.8" cy="161.2" r="1.8"/><circle cx="684.0" cy="164.4" r="1.8"/><circle cx="686.2" cy="166.9" r="1.8"/><circle cx="692.5" cy="163.1" r="1.8"/><circle cx="693.8" cy="163.5" r="1.8"/><circle cx="703.8" cy="163.8" r="1.8"/><circle cx="705.6" cy="164.4" r="1.8"/><circle cx="707.5" cy="166.2" r="1.8"/><circle cx="700.0" cy="166.2" r="1.8"/><circle cx="701.2" cy="167.2" r="1.8"/><circle cx="719.4" cy="164.8" r="1.8"/><circle cx="721.2" cy="164.8" r="1.8"/><circle cx="715.6" cy="167.8" r="1.8"/><circle cx="694.8" cy="169.8" r="1.8"/><circle cx="704.4" cy="170.6" r="1.8"/><circle cx="626.5" cy="169.8" r="1.8"/><circle cx="682.8" cy="173.1" r="1.8"/><circle cx="689.0" cy="176.5" r="1.8"/><circle cx="720.6" cy="174.4" r="1.8"/><circle cx="685.0" cy="179.8" r="1.8"/><circle cx="687.5" cy="180.6" r="1.8"/><circle cx="721.5" cy="185.6" r="1.8"/><circle cx="678.1" cy="188.8" r="1.8"/><circle cx="697.8" cy="188.8" r="1.8"/><circle cx="738.5" cy="120.2" r="1.8"/><circle cx="734.8" cy="126.9" r="1.8"/><circle cx="741.8" cy="126.0" r="1.8"/><circle cx="738.0" cy="131.9" r="1.8"/><circle cx="741.0" cy="135.6" r="1.8"/><circle cx="740.1" cy="137.8" r="1.8"/><circle cx="732.6" cy="140.6" r="1.8"/><circle cx="737.2" cy="143.5" r="1.8"/><circle cx="736.8" cy="148.5" r="1.8"/><circle cx="735.5" cy="151.0" r="1.8"/><circle cx="743.0" cy="146.0" r="1.8"/><circle cx="733.9" cy="158.1" r="1.8"/><circle cx="736.4" cy="158.5" r="1.8"/><circle cx="739.2" cy="158.8" r="1.8"/><circle cx="742.2" cy="159.8" r="1.8"/><circle cx="743.5" cy="163.1" r="1.8"/><circle cx="760.1" cy="169.8" r="1.8"/><circle cx="783.2" cy="170.6" r="1.8"/><circle cx="802.6" cy="165.6" r="1.8"/><circle cx="808.2" cy="172.2" r="1.8"/><circle cx="810.5" cy="174.8" r="1.8"/><circle cx="812.6" cy="174.0" r="1.8"/><circle cx="806.4" cy="177.2" r="1.8"/><circle cx="807.6" cy="179.0" r="1.8"/><circle cx="767.6" cy="179.8" r="1.8"/><circle cx="775.5" cy="179.8" r="1.8"/><circle cx="795.1" cy="179.8" r="1.8"/><circle cx="787.6" cy="181.5" r="1.8"/><circle cx="783.9" cy="183.1" r="1.8"/><circle cx="786.4" cy="185.6" r="1.8"/><circle cx="801.4" cy="181.2" r="1.8"/><circle cx="740.1" cy="184.8" r="1.8"/><circle cx="747.2" cy="184.8" r="1.8"/><circle cx="750.8" cy="186.2" r="1.8"/><circle cx="752.2" cy="187.2" r="1.8"/><circle cx="753.9" cy="189.0" r="1.8"/><circle cx="761.8" cy="186.0" r="1.8"/><circle cx="762.0" cy="188.1" r="1.8"/><circle cx="773.2" cy="186.2" r="1.8"/><circle cx="780.1" cy="187.2" r="1.8"/><circle cx="779.2" cy="189.4" r="1.8"/><circle cx="781.4" cy="186.2" r="1.8"/><circle cx="768.2" cy="189.4" r="1.8"/><circle cx="765.8" cy="191.2" r="1.8"/><circle cx="763.9" cy="192.5" r="1.8"/><circle cx="803.9" cy="187.8" r="1.8"/><circle cx="804.5" cy="188.8" r="1.8"/><circle cx="811.4" cy="189.8" r="1.8"/><circle cx="833.2" cy="189.8" r="1.8"/><circle cx="796.4" cy="189.4" r="1.8"/><circle cx="798.0" cy="191.2" r="1.8"/><circle cx="799.5" cy="193.8" r="1.8"/><circle cx="800.5" cy="195.6" r="1.8"/><circle cx="773.9" cy="192.2" r="1.8"/><circle cx="787.0" cy="192.8" r="1.8"/><circle cx="791.4" cy="192.8" r="1.8"/><circle cx="745.5" cy="196.0" r="1.8"/><circle cx="760.8" cy="196.0" r="1.8"/><circle cx="763.2" cy="193.8" r="1.8"/><circle cx="764.8" cy="196.0" r="1.8"/><circle cx="775.1" cy="196.2" r="1.8"/><circle cx="777.0" cy="196.0" r="1.8"/><circle cx="781.4" cy="196.2" r="1.8"/><circle cx="782.0" cy="198.8" r="1.8"/><circle cx="783.2" cy="199.4" r="1.8"/><circle cx="785.8" cy="198.5" r="1.8"/><circle cx="790.1" cy="197.5" r="1.8"/><circle cx="792.0" cy="196.9" r="1.8"/><circle cx="800.5" cy="198.1" r="1.8"/><circle cx="808.5" cy="196.5" r="1.8"/><circle cx="809.5" cy="200.0" r="1.8"/><circle cx="758.2" cy="199.4" r="1.8"/><circle cx="747.6" cy="200.6" r="1.8"/><circle cx="746.8" cy="202.2" r="1.8"/><circle cx="794.5" cy="200.2" r="1.8"/><circle cx="821.4" cy="200.2" r="1.8"/><circle cx="752.6" cy="204.4" r="1.8"/><circle cx="764.5" cy="202.8" r="1.8"/><circle cx="766.4" cy="203.5" r="1.8"/><circle cx="772.0" cy="201.9" r="1.8"/><circle cx="774.5" cy="200.6" r="1.8"/><circle cx="773.2" cy="203.8" r="1.8"/><circle cx="777.2" cy="203.1" r="1.8"/><circle cx="783.9" cy="203.8" r="1.8"/><circle cx="788.2" cy="202.2" r="1.8"/><circle cx="789.2" cy="204.4" r="1.8"/><circle cx="792.6" cy="203.8" r="1.8"/><circle cx="818.2" cy="204.8" r="1.8"/><circle cx="822.0" cy="204.4" r="1.8"/><circle cx="795.8" cy="205.2" r="1.8"/><circle cx="746.0" cy="207.8" r="1.8"/><circle cx="754.8" cy="206.9" r="1.8"/><circle cx="755.5" cy="209.0" r="1.8"/><circle cx="758.9" cy="207.5" r="1.8"/><circle cx="769.5" cy="208.1" r="1.8"/><circle cx="770.8" cy="206.2" r="1.8"/><circle cx="770.1" cy="212.5" r="1.8"/><circle cx="790.1" cy="207.5" r="1.8"/><circle cx="793.9" cy="209.4" r="1.8"/><circle cx="799.5" cy="205.6" r="1.8"/><circle cx="803.9" cy="209.0" r="1.8"/><circle cx="806.0" cy="206.9" r="1.8"/><circle cx="807.6" cy="208.1" r="1.8"/><circle cx="810.8" cy="208.5" r="1.8"/><circle cx="819.5" cy="209.4" r="1.8"/><circle cx="823.2" cy="208.1" r="1.8"/><circle cx="830.1" cy="206.9" r="1.8"/><circle cx="842.6" cy="208.5" r="1.8"/><circle cx="744.5" cy="213.5" r="1.8"/><circle cx="744.2" cy="216.9" r="1.8"/><circle cx="749.8" cy="215.6" r="1.8"/><circle cx="748.5" cy="220.0" r="1.8"/><circle cx="755.8" cy="218.8" r="1.8"/><circle cx="757.6" cy="218.8" r="1.8"/><circle cx="756.8" cy="222.2" r="1.8"/><circle cx="776.4" cy="215.0" r="1.8"/><circle cx="778.9" cy="214.4" r="1.8"/><circle cx="785.1" cy="213.5" r="1.8"/><circle cx="797.0" cy="216.9" r="1.8"/><circle cx="798.9" cy="215.2" r="1.8"/><circle cx="802.0" cy="215.2" r="1.8"/><circle cx="805.1" cy="217.8" r="1.8"/><circle cx="812.6" cy="217.5" r="1.8"/><circle cx="814.5" cy="220.0" r="1.8"/><circle cx="816.4" cy="221.9" r="1.8"/><circle cx="818.2" cy="213.5" r="1.8"/><circle cx="819.5" cy="215.2" r="1.8"/><circle cx="824.5" cy="212.5" r="1.8"/><circle cx="827.0" cy="216.5" r="1.8"/><circle cx="832.0" cy="218.5" r="1.8"/><circle cx="838.9" cy="215.2" r="1.8"/><circle cx="842.6" cy="215.6" r="1.8"/><circle cx="820.5" cy="223.8" r="1.8"/><circle cx="823.9" cy="221.5" r="1.8"/><circle cx="825.8" cy="223.1" r="1.8"/><circle cx="834.5" cy="221.9" r="1.8"/><circle cx="839.5" cy="223.1" r="1.8"/><circle cx="842.0" cy="223.5" r="1.8"/><circle cx="753.2" cy="225.0" r="1.8"/><circle cx="751.4" cy="228.5" r="1.8"/><circle cx="830.8" cy="226.2" r="1.8"/><circle cx="825.1" cy="228.5" r="1.8"/><circle cx="828.2" cy="230.6" r="1.8"/><circle cx="826.4" cy="233.5" r="1.8"/><circle cx="833.9" cy="230.6" r="1.8"/><circle cx="837.6" cy="231.9" r="1.8"/><circle cx="842.6" cy="228.1" r="1.8"/><circle cx="813.9" cy="232.8" r="1.8"/><circle cx="817.0" cy="231.9" r="1.8"/><circle cx="813.2" cy="237.5" r="1.8"/><circle cx="828.9" cy="237.5" r="1.8"/><circle cx="827.6" cy="240.0" r="1.8"/><circle cx="835.1" cy="235.6" r="1.8"/><circle cx="835.8" cy="237.5" r="1.8"/><circle cx="839.5" cy="238.1" r="1.8"/><circle cx="831.4" cy="241.5" r="1.8"/><circle cx="815.8" cy="246.5" r="1.8"/><circle cx="822.6" cy="248.8" r="1.8"/><circle cx="836.4" cy="245.6" r="1.8"/><circle cx="840.8" cy="247.2" r="1.8"/><circle cx="832.6" cy="254.8" r="1.8"/><circle cx="837.0" cy="270.6" r="1.8"/><circle cx="878.5" cy="192.8" r="1.8"/><circle cx="861.5" cy="199.8" r="1.8"/><circle cx="865.2" cy="199.8" r="1.8"/><circle cx="846.2" cy="201.9" r="1.8"/><circle cx="845.6" cy="204.4" r="1.8"/><circle cx="849.0" cy="206.2" r="1.8"/><circle cx="856.2" cy="207.2" r="1.8"/><circle cx="858.5" cy="207.2" r="1.8"/><circle cx="871.2" cy="205.2" r="1.8"/><circle cx="873.1" cy="207.2" r="1.8"/><circle cx="874.8" cy="203.5" r="1.8"/><circle cx="877.2" cy="207.5" r="1.8"/><circle cx="863.5" cy="209.8" r="1.8"/><circle cx="866.9" cy="208.8" r="1.8"/><circle cx="867.5" cy="211.9" r="1.8"/><circle cx="870.6" cy="210.6" r="1.8"/><circle cx="866.2" cy="213.8" r="1.8"/><circle cx="876.2" cy="211.5" r="1.8"/><circle cx="845.6" cy="214.0" r="1.8"/><circle cx="848.5" cy="212.8" r="1.8"/><circle cx="849.8" cy="215.0" r="1.8"/><circle cx="852.8" cy="216.9" r="1.8"/><circle cx="860.6" cy="216.9" r="1.8"/><circle cx="864.8" cy="215.0" r="1.8"/><circle cx="847.5" cy="219.4" r="1.8"/><circle cx="846.9" cy="221.9" r="1.8"/><circle cx="856.9" cy="222.5" r="1.8"/><circle cx="859.4" cy="223.5" r="1.8"/><circle cx="861.2" cy="222.2" r="1.8"/><circle cx="864.4" cy="221.0" r="1.8"/><circle cx="866.2" cy="224.4" r="1.8"/><circle cx="869.8" cy="219.4" r="1.8"/><circle cx="874.4" cy="223.5" r="1.8"/><circle cx="872.5" cy="226.9" r="1.8"/><circle cx="871.2" cy="228.1" r="1.8"/><circle cx="879.4" cy="221.9" r="1.8"/><circle cx="880.0" cy="223.1" r="1.8"/><circle cx="851.9" cy="227.5" r="1.8"/><circle cx="853.8" cy="228.5" r="1.8"/><circle cx="856.9" cy="230.6" r="1.8"/><circle cx="855.6" cy="232.2" r="1.8"/><circle cx="858.1" cy="229.8" r="1.8"/><circle cx="843.5" cy="230.6" r="1.8"/><circle cx="844.8" cy="233.5" r="1.8"/><circle cx="850.6" cy="235.6" r="1.8"/><circle cx="862.8" cy="235.6" r="1.8"/><circle cx="859.8" cy="238.8" r="1.8"/><circle cx="862.2" cy="241.0" r="1.8"/><circle cx="868.5" cy="233.5" r="1.8"/><circle cx="869.4" cy="235.6" r="1.8"/><circle cx="872.5" cy="236.9" r="1.8"/><circle cx="880.2" cy="236.9" r="1.8"/><circle cx="854.0" cy="241.5" r="1.8"/><circle cx="851.5" cy="244.8" r="1.8"/><circle cx="854.8" cy="248.1" r="1.8"/><circle cx="878.1" cy="248.1" r="1.8"/><circle cx="875.6" cy="254.4" r="1.8"/><circle cx="851.0" cy="258.8" r="1.8"/><circle cx="855.2" cy="256.2" r="1.8"/></g><rect x="60" y="30" width="1" height="331" fill="#666"/><rect x="60" y="360" width="821" height="1" fill="#666"/><rect x="55" y="30.0" width="5" height="1" fill="#666"/><text x="28.7" y="34.5" font-size="12" fill="#555" textLength="21.5" lengthAdjust="spacingAndGlyphs">20C</text><rect x="55" y="112.5" width="5" height="1" fill="#666"/><text x="28.9" y="117.0" font-size="12" fill="#555" textLength="21.3" lengthAdjust="spacingAndGlyphs">10C</text><rect x="55" y="195.0" width="5" height="1" fill="#666"/><text x="35.8" y="199.5" font-size="12" fill="#555" textLength="14.4" lengthAdjust="spacingAndGlyphs">0C</text><rect x="55" y="277.5" width="5" height="1" fill="#666"/><text x="23.2" y="282.0" font-size="12" fill="#555" textLength="27" lengthAdjust="spacingAndGlyphs">-10C</text><rect x="55" y="360.0" width="5" height="1" fill="#666"/><text x="23.2" y="364.5" font-size="12" fill="#555" textLength="27" lengthAdjust="spacingAndGlyphs">-20C</text><text x="94.2" y="376" font-size="12" fill="#555" text-anchor="middle">Jan</text><text x="162.6" y="376" font-size="12" fill="#555" text-anchor="middle">Feb</text><text x="231.0" y="376" font-size="12" fill="#555" text-anchor="middle">Mar</text><text x="299.4" y="376" font-size="12" fill="#555" text-anchor="middle">Apr</text><text x="367.8" y="376" font-size="12" fill="#555" text-anchor="middle">May</text><text x="436.2" y="376" font-size="12" fill="#555" text-anchor="middle">Jun</text><text x="504.6" y="376" font-size="12" fill="#555" text-anchor="middle">Jul</text><text x="573.0" y="376" font-size="12" fill="#555" text-anchor="middle">Aug</text><text x="641.4" y="376" font-size="12" fill="#555" text-anchor="middle">Sep</text><text x="709.8" y="376" font-size="12" fill="#555" text-anchor="middle">Oct</text><text x="778.2" y="376" font-size="12" fill="#555" text-anchor="middle">Nov</text><text x="846.6" y="376" font-size="12" fill="#555" text-anchor="middle">Dec</text><text x="449.6" y="22" font-size="16" fill="#111" text-anchor="middle" textLength="288" lengthAdjust="spacingAndGlyphs">Monthly Mean Temperatures 1901 - 2009</text><text transform="translate(13,195) rotate(-90)" x="0" y="0" font-size="12" fill="#555" text-anchor="middle" textLength="75" lengthAdjust="spacingAndGlyphs">Temperature</text><text x="11.6" y="394.5" font-size="10.5" fill="#aaa" textLength="141.6" lengthAdjust="spacingAndGlyphs">Latitude 47.25 Longitude 13.75</text><text x="801" y="394.5" font-size="10.5" fill="#aaa" textLength="77.7" lengthAdjust="spacingAndGlyphs">worldspecies.org</text><defs><filter id="sh" x="-20%" y="-50%" width="140%" height="200%"><feGaussianBlur stdDeviation="0.8"/></filter></defs><rect x="65" y="36" width="86.5" height="17" rx="5" ry="5" fill="#000" opacity="0.10" filter="url(#sh)"/><rect x="64.5" y="35" width="86.5" height="17" rx="5" ry="5" fill="#fff"/><rect x="75" y="41" width="5" height="5" fill="#00b800"/><text x="87" y="46.5" font-size="10" fill="#000" textLength="53" lengthAdjust="spacingAndGlyphs">Mean Temp</text></svg></body></html>
